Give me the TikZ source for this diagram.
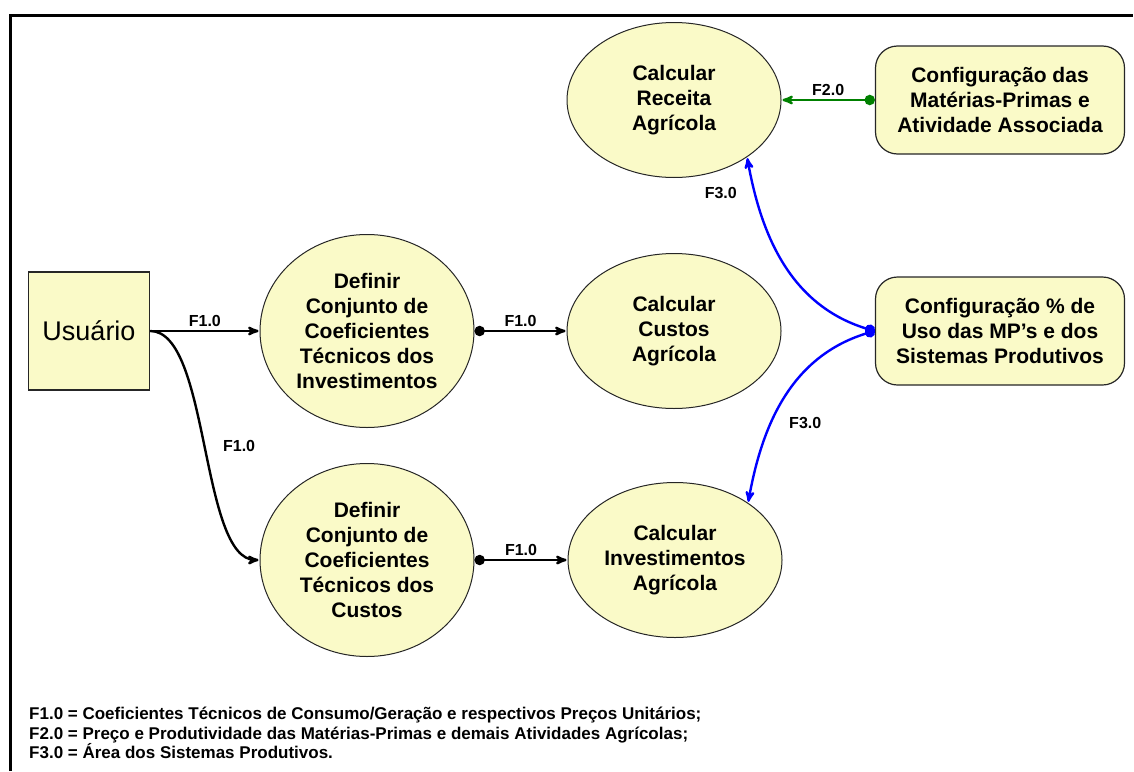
\documentclass[tikz,border=0pt]{standalone}
\usepackage{fontspec}
\setmainfont{Liberation Sans}
\usepackage{tikz}
\usetikzlibrary{arrows}
\usetikzlibrary{positioning}
\usetikzlibrary{shapes}
\definecolor{procyellow}{RGB}{250,250,200}
\definecolor{flowgreen}{RGB}{0,128,0}

\begin{document}
\begin{tikzpicture}[x=1pt,y=-1pt,->,>=stealth',shorten >=1pt,auto,on grid,
  every edge/.append style={line width=2.4pt},
  proc/.style={ellipse,draw=black!85,line width=1pt,fill=procyellow,minimum width=214pt,minimum height=193pt,inner sep=0pt,align=center,font=\fontsize{21}{25}\selectfont\bfseries},
  calc/.style={proc,minimum height=155pt},
  cfg/.style={rectangle,rounded corners=22pt,draw=black!85,line width=1.2pt,fill=procyellow,minimum width=249pt,minimum height=108pt,inner sep=0pt,align=center,font=\fontsize{21}{25}\selectfont\bfseries},
  flow/.style={font=\fontsize{16}{18}\selectfont\bfseries,text=black,inner sep=3pt},
  legend/.style={font=\fontsize{17}{20}\selectfont\bfseries,inner sep=0pt,anchor=base west}]
  \useasboundingbox (0,0) rectangle (1134,771);
  \draw[-,line width=3pt] (10,771) -- (10,15) -- (1134,15);

  \node[rectangle,draw=black!85,line width=1.5pt,fill=procyellow,minimum width=121pt,minimum height=118pt,font=\fontsize{27}{30}\selectfont] (Usuario) at (89,331) {Usuário};

  \node[proc] (DefInv) [right=278pt of Usuario] {Definir\\Conjunto de\\Coeficientes\\Técnicos dos\\Investimentos};
  \node[proc] (DefCustos) [below=229pt of DefInv] {Definir\\Conjunto de\\Coeficientes\\Técnicos dos\\Custos};
  \node[calc] (Custos) [right=307pt of DefInv] {Calcular\\Custos\\Agrícola};
  \node[calc] (Receita) [above=231pt of Custos] {Calcular\\Receita\\Agrícola};
  \node[calc] (Invest) [right=308pt of DefCustos] {Calcular\\Investimentos\\Agrícola};
  \node[cfg] (ConfMP) [right=326pt of Receita] {Configuração das\\Matérias-Primas e\\Atividade Associada};
  \node[cfg] (ConfUso) [right=326pt of Custos] {Configuração \% de\\Uso das MP’s e dos\\Sistemas Produtivos};

  \path (Usuario) edge node[flow] {F1.0} (DefInv)
                  edge [out=0,in=180,looseness=0.6] node[flow,pos=0.5,right=14pt] {F1.0} (DefCustos)
        (DefInv) edge [*->] node[flow] {F1.0} (Custos)
        (DefCustos) edge [*->] node[flow] {F1.0} (Invest)
        (ConfMP) edge [*->,flowgreen] node[flow,above] {F2.0} (Receita)
        (ConfUso.west) edge [*->,blue,out=165,in=-80] node[flow,pos=0.85,left=14pt] {F3.0} (Receita.-38)
                       edge [*->,blue,out=195,in=80] node[flow,pos=0.65,right=14pt] {F3.0} (Invest.38);

  \node[legend] (LegF1) at (29,719) {F1.0 = Coeficientes Técnicos de Consumo/Geração e respectivos Preços Unitários;};
  \node[legend] (LegF2) at (29,739) {F2.0 = Preço e Produtividade das Matérias-Primas e demais Atividades Agrícolas;};
  \node[legend] (LegF3) at (29,758) {F3.0 = Área dos Sistemas Produtivos.};
\end{tikzpicture}
\end{document}
